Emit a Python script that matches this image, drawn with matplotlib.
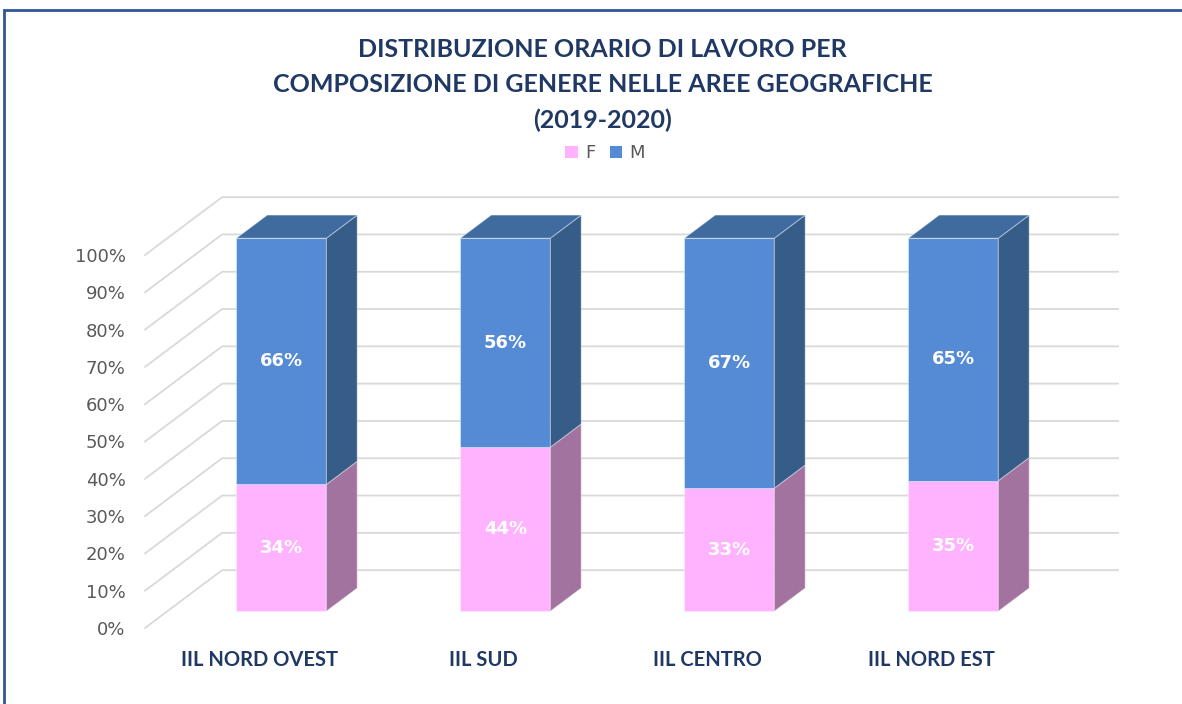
import matplotlib
matplotlib.use('Agg')
import matplotlib.pyplot as plt
from matplotlib.patches import Polygon, Patch, Rectangle

categories = ['IIL NORD OVEST', 'IIL SUD', 'IIL CENTRO', 'IIL NORD EST']
female = [34, 44, 33, 35]
male = [66, 56, 67, 65]
yticks = [0, 10, 20, 30, 40, 50, 60, 70, 80, 90, 100]

NAVY = '#1F3864'
F_FRONT, F_SIDE = '#FFB3FF', '#A373A0'
M_FRONT, M_SIDE, M_TOP = '#558BD5', '#365C88', '#3F6B9F'

fig = plt.figure(figsize=(11.82, 7.04), dpi=100)
ax = fig.add_axes([0.1227, 0.108, 0.8232, 0.6146])
ax.set_xlim(-0.509, 3.835)
ax.set_ylim(0, 116)
for s in ax.spines.values():
  s.set_visible(False)

# depth of the 3d box in data units
depth_x, depth_y = 0.344, 15.5
xmin, xmax = ax.get_xlim()

# gridlines: slanted floor part + back wall
for v in yticks:
  ax.plot([xmin, xmin + depth_x, xmax], [v, v + depth_y, v + depth_y],
          color='#D9D9D9', lw=1.3, zorder=1, clip_on=False)

def box(x0, x1, y0, y1, front, side, top=None):
  f0, f1 = 0.29, 0.69
  ox, oy = f0 * depth_x, f0 * depth_y
  bx, by = (f1 - f0) * depth_x, (f1 - f0) * depth_y
  a, b = x0 + ox, x1 + ox
  lo, hi = y0 + oy, y1 + oy
  ec = (1, 1, 1, 0.35)
  ax.add_patch(Polygon([(a, lo), (b, lo), (b, hi), (a, hi)], closed=True,
                       facecolor=front, edgecolor=ec, lw=0.8, zorder=3))
  ax.add_patch(Polygon([(b, lo), (b + bx, lo + by), (b + bx, hi + by), (b, hi)],
                       closed=True, facecolor=side, edgecolor=ec, lw=0.8, zorder=3))
  if top is not None:
    ax.add_patch(Polygon([(a, hi), (b, hi), (b + bx, hi + by), (a + bx, hi + by)],
                         closed=True, facecolor=top, edgecolor=ec, lw=0.8, zorder=3))
  return (a + b) / 2, (lo + hi) / 2

half = 0.2009
for i, (f, m) in enumerate(zip(female, male)):
  cx, cy = box(i - half, i + half, 0, f, F_FRONT, F_SIDE)
  ax.text(cx, cy, f'{f}%', color='white', fontsize=13, fontweight='bold',
          ha='center', va='center', zorder=4)
  cx, cy = box(i - half, i + half, f, f + m, M_FRONT, M_SIDE, M_TOP)
  ax.text(cx, cy, f'{m}%', color='white', fontsize=13, fontweight='bold',
          ha='center', va='center', zorder=4)

ax.set_yticks(yticks)
ax.set_yticklabels([f'{v}%' for v in yticks], color='#595959', fontsize=13)
ax.set_xticks(range(len(categories)))
ax.set_xticklabels(categories, color=NAVY, fontsize=14.5, fontweight='bold',
                   family='Lato')
ax.tick_params(axis='y', length=0, pad=14)
ax.tick_params(axis='x', length=0, pad=16)

fig.text(0.51, 0.879, 'DISTRIBUZIONE ORARIO DI LAVORO PER\n'
         'COMPOSIZIONE DI GENERE NELLE AREE GEOGRAFICHE\n(2019-2020)',
         ha='center', va='center', fontsize=18, fontweight='bold', color=NAVY,
         family='Lato', linespacing=1.62)

handles = [Patch(facecolor=F_FRONT, label='F'), Patch(facecolor=M_FRONT, label='M')]
fig.legend(handles=handles, loc='center', bbox_to_anchor=(0.512, 0.782), ncol=2,
           frameon=False, fontsize=13, handlelength=0.7, handleheight=0.7,
           handletextpad=0.4, columnspacing=0.8, labelcolor='#595959')

# outer frame of the chart object
fig.patches.append(Rectangle((4 / 1182, -0.1), 1.2, 1.1 - 10 / 704, transform=fig.transFigure,
                             fill=False, edgecolor='#2F5597', lw=2, zorder=0))

fig.savefig('out.png', dpi=100)
